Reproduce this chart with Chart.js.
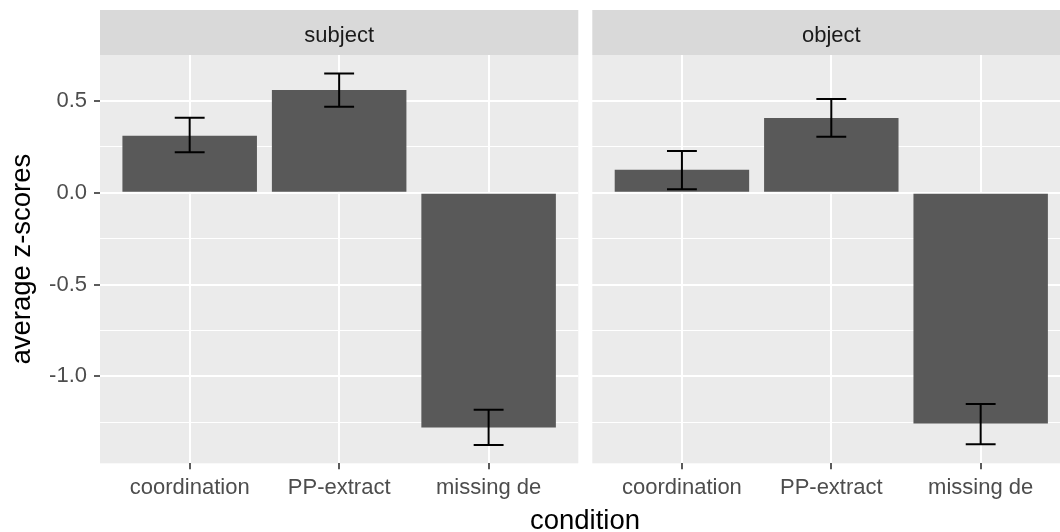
<!DOCTYPE html>
<html>
<head>
<meta charset="utf-8">
<script src="https://cdn.jsdelivr.net/npm/chart.js@4"></script>
<style>
  html, body { margin: 0; padding: 0; background: #ffffff; }
  body { width: 1060px; height: 532px; overflow: hidden; position: relative; }
  canvas { position: absolute; top: 0; }
  #c1 { left: 0; }
  #c2 { left: 585px; }
</style>
</head>
<body>
<canvas id="c1" width="1060" height="532"></canvas>
<canvas id="c2" width="500" height="532"></canvas>
<script>
// ---- data ----
const categories = ['coordination', 'PP-extract', 'missing de'];
const panels = ['subject', 'object'];
const subjectMeans = [0.310, 0.558, -1.278];
const subjectLow   = [0.220, 0.467, -1.374];
const subjectHigh  = [0.407, 0.648, -1.182];
const objectMeans  = [0.124, 0.406, -1.256];
const objectLow    = [0.019, 0.304, -1.370];
const objectHigh   = [0.227, 0.509, -1.150];
const yTickValues  = [-1.0, -0.5, 0.0, 0.5];
const yTickLabels  = ['-1.0', '-0.5', '0.0', '0.5'];
const yMinorValues = [-1.25, -0.75, -0.25, 0.25];
const yLimits = [-1.473, 0.749];
const xTitle = 'condition';
const yTitle = 'average z-scores';

Chart.defaults.font.family = "'Liberation Sans', Arial, Helvetica, sans-serif";
Chart.defaults.animation = false;

const FONT = "'Liberation Sans', Arial, Helvetica, sans-serif";
const allY = yTickValues.concat(yMinorValues).sort((a, b) => a - b);
const isMajor = v => yTickValues.some(t => Math.abs(t - v) < 1e-9);

function panelPlugin(stripText, low, high, drawXTitle) {
  return {
    id: 'panel_' + stripText,
    beforeDraw(chart) {
      const { ctx, chartArea: a } = chart;
      ctx.save();
      ctx.fillStyle = '#ebebeb';
      ctx.fillRect(a.left, a.top, a.right - a.left, a.bottom - a.top);
      // strip
      ctx.fillStyle = '#d9d9d9';
      ctx.fillRect(a.left, 10, a.right - a.left, a.top - 10);
      ctx.fillStyle = '#1a1a1a';
      ctx.font = '22px ' + FONT;
      ctx.textAlign = 'center';
      ctx.textBaseline = 'alphabetic';
      ctx.fillText(stripText, (a.left + a.right) / 2, 41.5);
      ctx.restore();
    },
    afterDatasetsDraw(chart) {
      const { ctx } = chart;
      const xs = chart.scales.x, ys = chart.scales.y;
      const half = xs.getPixelForValue(1.1) - xs.getPixelForValue(1);
      ctx.save();
      ctx.strokeStyle = '#000000';
      ctx.lineWidth = 2;
      ctx.lineCap = 'butt';
      for (let i = 0; i < categories.length; i++) {
        const x = xs.getPixelForValue(i + 1);
        const y1 = ys.getPixelForValue(low[i]);
        const y2 = ys.getPixelForValue(high[i]);
        ctx.beginPath();
        ctx.moveTo(x, y1); ctx.lineTo(x, y2);
        ctx.moveTo(x - half, y1); ctx.lineTo(x + half, y1);
        ctx.moveTo(x - half, y2); ctx.lineTo(x + half, y2);
        ctx.stroke();
      }
      ctx.restore();
    },
    afterDraw(chart) {
      if (!drawXTitle) return;
      const { ctx } = chart;
      ctx.save();
      ctx.fillStyle = '#000000';
      ctx.font = '27.5px ' + FONT;
      ctx.textAlign = 'center';
      ctx.textBaseline = 'alphabetic';
      ctx.fillText(xTitle, 585, 529);
      ctx.restore();
    }
  };
}

function makeChart(canvas, stripText, means, low, high, first) {
  return new Chart(canvas, {
    type: 'bar',
    data: {
      datasets: [{
        data: means.map((v, i) => ({ x: i + 1, y: v })),
        backgroundColor: '#595959',
        borderWidth: 0,
        categoryPercentage: 1.0,
        barPercentage: 0.9
      }]
    },
    options: {
      responsive: false,
      animation: false,
      layout: {
        padding: first
          ? { left: 0, right: 1060 - 578.3, top: 55, bottom: 0 }
          : { left: 0, right: 500 - 7.3 - 478, top: 55, bottom: 0 }
      },
      plugins: { legend: { display: false }, tooltip: { enabled: false }, title: { display: false } },
      scales: {
        x: {
          type: 'linear',
          offset: false,
          min: 0.4, max: 3.6,
          afterBuildTicks: s => { s.ticks = categories.map((c, i) => ({ value: i + 1 })); },
          afterFit: s => { s.height = 532 - 463.3; },
          border: { display: false },
          grid: { offset: false, color: '#ffffff', lineWidth: 2, tickColor: '#333333', tickLength: 6, tickWidth: 1.6 },
          ticks: {
            padding: 5,
            color: '#4d4d4d',
            font: { size: 22 },
            maxRotation: 0,
            autoSkip: false,
            callback: v => categories[Math.round(v) - 1]
          }
        },
        y: {
          type: 'linear',
          min: yLimits[0], max: yLimits[1],
          afterBuildTicks: s => { s.ticks = allY.map(v => ({ value: v })); },
          afterFit: s => { s.width = first ? 100 : 7.3; },
          border: { display: false },
          grid: {
            color: '#ffffff',
            lineWidth: c => (c.tick && isMajor(c.tick.value)) ? 2 : 1,
            drawTicks: first,
            tickColor: c => (c.tick && isMajor(c.tick.value)) ? '#333333' : 'rgba(0,0,0,0)',
            tickLength: 6,
            tickWidth: 1.6
          },
          ticks: {
            display: first,
            padding: 7,
            color: '#4d4d4d',
            font: { size: 22 },
            autoSkip: false,
            callback: v => {
              const k = yTickValues.findIndex(t => Math.abs(t - v) < 1e-9);
              return k >= 0 ? yTickLabels[k] : '';
            }
          },
          title: {
            display: first,
            text: yTitle,
            color: '#000000',
            font: { size: 27.5 },
            padding: { top: 6, bottom: 0 }
          }
        }
      }
    },
    plugins: [panelPlugin(stripText, low, high, first)]
  });
}

makeChart(document.getElementById('c1'), panels[0], subjectMeans, subjectLow, subjectHigh, true);
makeChart(document.getElementById('c2'), panels[1], objectMeans, objectLow, objectHigh, false);
</script>
</body>
</html>
